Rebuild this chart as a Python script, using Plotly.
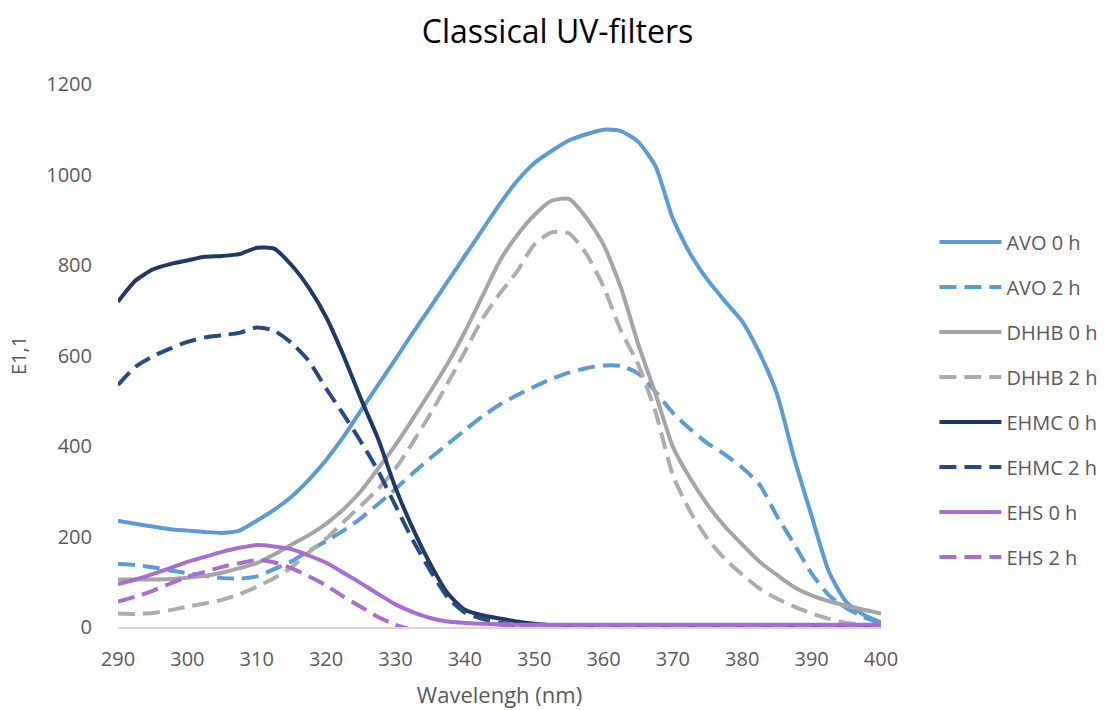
import plotly.graph_objects as go

# Wavelength grid (nm)
wavelength = [290 + 2.5 * i for i in range(45)]

avo_0h = [235, 228, 222, 216, 213, 210, 208, 213, 235, 259, 288, 325, 369, 420,
          478, 535, 592, 650, 706, 763, 820, 877, 934, 985, 1025, 1052, 1075, 1089,
          1099, 1096, 1072, 1018, 902, 825, 767, 720, 675, 605, 515, 372, 245, 122,
          55, 27, 10]
avo_2h = [139, 137, 132, 125, 119, 113, 108, 107, 112, 128, 145, 168, 190, 213,
          240, 272, 305, 340, 373, 404, 435, 465, 491, 512, 531, 548, 562, 572,
          578, 577, 560, 520, 473, 437, 406, 381, 352, 315, 245, 183, 118, 70,
          42, 22, 8]
dhhb_0h = [105, 105, 105, 106, 109, 113, 120, 130, 141, 160, 182, 203, 228, 260,
           300, 350, 402, 460, 520, 582, 652, 730, 808, 865, 910, 942, 946, 905,
           845, 750, 625, 515, 398, 328, 270, 222, 182, 144, 115, 88, 70, 57,
           47, 38, 30]
dhhb_2h = [30, 29, 31, 37, 45, 52, 60, 72, 89, 108, 132, 165, 195, 232,
           268, 305, 350, 408, 470, 538, 608, 680, 736, 785, 845, 872, 870, 825,
           752, 655, 580, 475, 335, 255, 195, 150, 116, 85, 63, 45, 30, 18,
           9, 5, 3]
ehmc_0h = [719, 765, 790, 802, 810, 818, 820, 824, 838, 836, 800, 750, 685, 600,
           505, 416, 308, 218, 140, 75, 38, 26, 19, 12, 7, 4, 3, 3,
           3, 3, 3, 3, 3, 3, 3, 3, 3, 3, 3, 3, 3, 3,
           3, 3, 3]
ehmc_2h = [535, 575, 598, 615, 630, 640, 645, 650, 662, 655, 628, 588, 527, 470,
           410, 345, 268, 192, 125, 66, 32, 18, 10, 2, -4, -4, -4, -4,
           -4, -4, -4, -4, -4, -4, -4, -4, -4, -4, -4, -4, -4, -4,
           -4, -4, -4]
ehs_0h = [95, 105, 117, 130, 144, 155, 166, 175, 181, 178, 172, 158, 142, 120,
          97, 73, 50, 33, 20, 12, 9, 7, 6, 5, 5, 5, 5, 5,
          5, 5, 5, 5, 5, 5, 5, 5, 5, 5, 5, 5, 5, 5,
          5, 5, 5]
ehs_2h = [56, 67, 80, 96, 111, 122, 133, 141, 148, 143, 130, 112, 92, 67,
          45, 22, 5, -6, -8, -8, -6, -4, -3, -1, 0, 0, 0, 0,
          0, 0, 0, 0, 0, 0, 0, 0, 0, 0, 0, 0, 0, 0,
          0, 0, 0]

x_ticks = list(range(290, 401, 10))

series = [
    ("AVO 0 h", avo_0h, "#5B9BD5", "solid"),
    ("AVO 2 h", avo_2h, "#5B9BD5", "17px,8px"),
    ("DHHB 0 h", dhhb_0h, "#A5A5A5", "solid"),
    ("DHHB 2 h", dhhb_2h, "#AFABAB", "17px,8px"),
    ("EHMC 0 h", ehmc_0h, "#203864", "solid"),
    ("EHMC 2 h", ehmc_2h, "#2A4A7F", "17px,8px"),
    ("EHS 0 h", ehs_0h, "#A66FCF", "solid"),
    ("EHS 2 h", ehs_2h, "#A66FCF", "17px,8px"),
]

fig = go.Figure()
for name, values, color, dash in series:
    fig.add_trace(go.Scatter(
        x=wavelength, y=values, name=name, mode="lines",
        legendgroup=name,
        line=dict(color=color, width=4, dash=dash, shape="spline", smoothing=0.6),
    ))

font_family = "Open Sans"
text_color = "#595959"

fig.update_layout(
    width=1115, height=710,
    margin=dict(l=118, r=234, t=84, b=83),
    paper_bgcolor="white", plot_bgcolor="white",
    font=dict(family=font_family, color=text_color, size=20),
    title=dict(text="Classical UV-filters", x=0.5, xref="container",
               y=0.955, yref="container", xanchor="center", yanchor="middle",
               font=dict(size=32, color="#000000", family=font_family)),
    xaxis=dict(range=[290, 400], tickvals=x_ticks, showgrid=False, zeroline=False,
               showline=True, linecolor="#D9D9D9", linewidth=1.5, ticks="",
               ticklabelstandoff=13, automargin=False,
               title=dict(text="Wavelengh (nm)", standoff=17,
                          font=dict(size=22, color=text_color))),
    yaxis=dict(range=[0, 1200], dtick=200, showgrid=False, zeroline=False,
               showline=False, ticks="", ticklabelstandoff=25, automargin=False,
               title=dict(text="E1,1", standoff=14,
                          font=dict(size=20, color=text_color))),
    legend=dict(x=1.07, xanchor="left", y=0.745, yanchor="top",
                font=dict(size=20, color=text_color),
                tracegroupgap=16, itemwidth=62, bgcolor="rgba(0,0,0,0)"),
)

fig.write_html("out.html")
